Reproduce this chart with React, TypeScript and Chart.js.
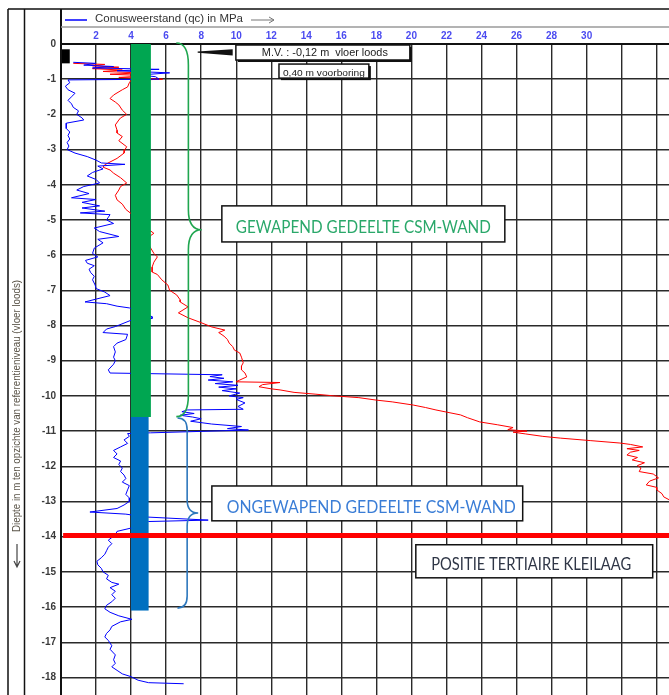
import React, { useEffect, useRef } from 'react';
import { Chart, registerables } from 'chart.js';

Chart.register(...registerables);

// ---------- axes ----------
const X_MIN = 0;
const X_MAX = 34.7;
const Y_MIN = -18.5;
const Y_MAX = 0;
const xTickLabels = [2, 4, 6, 8, 10, 12, 14, 16, 18, 20, 22, 24, 26, 28, 30];

// ---------- cone resistance qc (blue) ----------
const qcDepth = [
  -0.52, -0.55, -0.6, -0.64, -0.68, -0.72, -0.76, -0.82, -0.88, -0.93, -1.0, -1.02, -1.1, -1.2, -1.3, -1.4,
  -1.5, -1.6, -1.7, -1.8, -1.9, -2.0, -2.1, -2.16, -2.25, -2.4, -2.5, -2.6, -2.7, -2.8, -2.9, -3.0,
  -3.1, -3.2, -3.3, -3.38, -3.42, -3.47, -3.55, -3.65, -3.75, -3.85, -3.95, -4.05, -4.15, -4.25, -4.37, -4.42,
  -4.5, -4.6, -4.66, -4.75, -4.8, -4.85, -5.0, -5.1, -5.23, -5.33, -5.47, -5.55, -5.65, -5.8, -5.95, -6.05,
  -6.15, -6.23, -6.3, -6.4, -6.5, -6.6, -6.7, -6.85, -6.95, -7.05, -7.15, -7.25, -7.33, -7.38, -7.45, -7.5,
  -7.6, -7.75, -7.8, -7.85, -8.03, -8.1, -8.2, -8.25, -8.4, -8.5, -8.6, -8.75, -8.9, -9.0, -9.1, -9.26,
  -9.35, -9.4, -9.45, -9.5, -9.55, -9.6, -9.65, -9.7, -9.75, -9.8, -9.85, -9.92, -10.0, -10.05, -10.1, -10.2,
  -10.3, -10.38, -10.4, -10.45, -10.5, -10.55, -10.6, -10.65, -10.72, -10.8, -10.87, -10.93, -10.97, -11.05, -11.07, -11.15,
  -11.25, -11.35, -11.45, -11.55, -11.65, -11.75, -11.85, -11.95, -12.05, -12.15, -12.25, -12.35, -12.45, -12.55, -12.67, -12.8,
  -12.9, -13.0, -13.1, -13.2, -13.3, -13.36, -13.44, -13.53, -13.57, -13.65, -13.75, -13.85, -13.95, -14.1, -14.2, -14.3,
  -14.4, -14.5, -14.6, -14.7, -14.8, -14.9, -15.0, -15.1, -15.2, -15.3, -15.35, -15.45, -15.55, -15.65, -15.75, -15.85,
  -15.95, -16.05, -16.15, -16.25, -16.35, -16.42, -16.55, -16.65, -16.75, -16.85, -16.95, -17.1, -17.2, -17.36, -17.5, -17.6,
  -17.7, -17.8, -17.9, -17.98, -18.08, -18.15, -18.18,
];
const qcValue = [
  0.7, 2.0, 1.3, 3.0, 1.8, 5.6, 3.2, 6.2, 4.5, 5.4, 5.6, 0.4, 0.5, 0.25, 0.4, 0.8,
  0.6, 0.4, 0.6, 0.7, 1.0, 0.9, 1.2, 1.3, 0.3, 0.3, 0.5, 0.4, 0.5, 0.35, 0.45, 0.35,
  0.8, 1.5, 2.0, 2.3, 3.65, 2.1, 2.4, 1.8, 1.5, 2.0, 2.2, 1.3, 0.9, 1.6, 0.6, 2.0,
  1.2, 2.2, 1.2, 2.5, 1.1, 2.8, 2.6, 3.0, 1.9, 2.2, 3.3, 2.1, 2.4, 1.9, 1.8, 2.1,
  1.4, 1.5, 1.9, 1.6, 1.7, 1.9, 1.8, 1.95, 2.0, 2.5, 2.8, 2.0, 1.37, 2.6, 3.2, 3.9,
  4.5, 5.2, 5.2, 4.0, 3.1, 2.6, 2.4, 3.8, 3.7, 3.2, 3.0, 3.1, 3.0, 3.1, 3.0, 2.7,
  2.8, 9.2, 8.5, 9.3, 8.4, 9.8, 8.8, 10.1, 9.0, 10.0, 9.2, 10.2, 9.6, 10.4, 10.0, 10.5,
  10.1, 10.4, 7.2, 6.9, 7.6, 6.8, 7.5, 8.0, 7.4, 8.6, 10.3, 9.5, 10.7, 5.1, 3.8, 3.9,
  3.6, 3.8, 3.4, 3.0, 3.2, 3.0, 3.4, 3.3, 3.5, 3.4, 3.6, 3.7, 3.5, 3.9, 3.8, 3.7,
  3.9, 3.9, 3.6, 3.2, 1.65, 3.7, 4.8, 8.4, 5.0, 4.2, 4.05, 3.2, 3.1, 2.7, 2.9, 2.7,
  2.6, 2.5, 2.3, 2.05, 2.1, 2.3, 2.4, 2.7, 2.6, 2.9, 3.3, 2.8, 3.1, 2.9, 3.1, 2.9,
  2.6, 2.5, 2.8, 3.3, 4.05, 3.4, 2.9, 2.8, 2.6, 2.5, 2.7, 2.9, 2.8, 3.1, 3.0, 3.1,
  2.9, 3.2, 3.5, 4.0, 4.4, 5.0, 7.0,
];

// ---------- second curve (red) ----------
const redDepth = [
  -0.55, -0.58, -0.62, -0.66, -0.7, -0.74, -0.78, -0.82, -0.86, -0.9, -0.95, -1.0, -1.03, -1.1, -1.22, -1.3,
  -1.45, -1.55, -1.65, -1.73, -1.88, -2.0, -2.1, -2.16, -2.3, -2.45, -2.53, -2.63, -2.75, -2.92, -3.0, -3.1,
  -3.25, -3.43, -3.5, -3.58, -3.67, -3.8, -3.95, -4.05, -4.15, -4.3, -4.43, -4.55, -4.7, -4.8, -4.9, -5.2,
  -5.38, -5.45, -5.7, -5.95, -6.05, -6.2, -6.34, -6.48, -6.55, -6.7, -6.85, -7.0, -7.13, -7.27, -7.33, -7.47,
  -7.64, -7.78, -7.92, -8.04, -8.13, -8.2, -8.3, -8.4, -8.5, -8.6, -8.7, -8.78, -8.9, -9.06, -9.15, -9.26,
  -9.35, -9.46, -9.55, -9.6, -9.62, -9.68, -9.74, -9.8, -9.83, -9.9, -9.95, -10.0, -10.05, -10.12, -10.17, -10.26,
  -10.33, -10.4, -10.48, -10.54, -10.62, -10.74, -10.82, -10.9, -10.96, -11.0, -11.03, -11.08, -11.15, -11.2, -11.27, -11.34,
  -11.38, -11.45, -11.5, -11.55, -11.6, -11.68, -11.75, -11.82, -11.9, -11.98, -12.05, -12.15, -12.22, -12.33, -12.42, -12.53,
  -12.6, -12.67, -12.78, -12.87, -12.95,
];
const redValue = [
  0.7, 2.5, 1.8, 3.3, 1.8, 3.5, 2.4, 4.5, 2.8, 5.0, 3.3, 5.8, 4.0, 3.9, 3.8, 3.5,
  3.0, 2.8, 3.1, 3.3, 3.5, 3.75, 3.4, 3.3, 3.1, 3.2, 3.2, 3.5, 3.3, 3.75, 3.65, 3.6,
  3.2, 2.5, 2.4, 2.8, 3.0, 3.4, 3.75, 3.4, 3.3, 3.1, 3.2, 3.5, 3.7, 3.95, 4.3, 4.8,
  5.3, 5.1, 5.0, 5.3, 5.5, 5.3, 5.2, 5.2, 5.5, 5.75, 6.1, 6.2, 6.6, 6.8, 6.8, 7.25,
  6.7, 7.25, 8.0, 8.6, 9.35, 9.0, 9.3, 9.5, 9.6, 9.8, 9.9, 10.2, 10.3, 10.4, 10.3, 10.3,
  10.5, 10.6, 10.2, 10.0, 12.5, 11.5, 11.3, 12.0, 12.5, 13.3, 14.5, 15.6, 17.0, 18.0, 18.9, 20.1,
  20.8, 21.4, 22.2, 22.8, 23.2, 23.9, 24.9, 25.8, 25.5, 26.6, 25.8, 26.5, 27.5, 28.5, 30.2, 31.9,
  32.5, 33.2, 32.3, 33.0, 32.5, 32.3, 32.9, 32.6, 33.3, 32.9, 33.1, 33.0, 33.8, 34.1, 33.6, 33.4,
  34.0, 34.0, 34.3, 34.4, 34.7,
];

// ---------- wall sections (bars) ----------
const wallLabels = ['gewapend', 'ongewapend'];
const wallTop = [0, -10.6];
const wallBottom = [-10.6, -16.1];
const wallLeft = [3.99, 3.99];
const wallRight = [5.13, 5.0];
const wallColors = ['#00a651', '#0070c0'];

// pre-drilling block
const preDrillTop = -0.15;
const preDrillBottom = -0.55;
const preDrillLeft = 0;
const preDrillRight = 0.5;

// clay layer
const clayDepth = -13.97;

// braces: [top, tip, bottom] depth
const braceTop = [0, -10.6];
const braceTip = [-5.28, -13.33];
const braceBottom = [-10.59, -16.03];
const braceEndX = [6.58, 6.65];
const braceMidX = [7.27, 7.2];
const braceTipX = [8.03, 7.83];

// text labels
const boxTexts = ['GEWAPEND GEDEELTE CSM-WAND', 'ONGEWAPEND GEDEELTE CSM-WAND', 'POSITIE TERTIAIRE KLEILAAG'];
const mvText = 'M.V. : -0,12 m  vloer loods';
const preDrillText = '0,40 m voorboring';
const xTitle = 'Conusweerstand (qc) in MPa';
const yTitle = 'Diepte in m ten opzichte van referentieniveau (vloer loods)';

function fitText(ctx: CanvasRenderingContext2D, text: string, cx: number, baseline: number, width: number, font: string, color: string) {
  ctx.save();
  ctx.font = font;
  const w = ctx.measureText(text).width;
  ctx.translate(cx, baseline);
  ctx.scale(width / w, 1);
  ctx.textAlign = 'center';
  ctx.textBaseline = 'alphabetic';
  ctx.fillStyle = color;
  ctx.fillText(text, 0, 0);
  ctx.restore();
}

function drawBox(ctx: CanvasRenderingContext2D, x1: number, y1: number, x2: number, y2: number, shadow: boolean) {
  ctx.save();
  if (shadow) {
    ctx.fillStyle = '#111';
    ctx.fillRect(x1 + 2, y1 + 2, x2 - x1, y2 - y1);
  }
  ctx.fillStyle = '#fff';
  ctx.fillRect(x1, y1, x2 - x1, y2 - y1);
  ctx.strokeStyle = '#111';
  ctx.lineWidth = 1.5;
  ctx.strokeRect(x1, y1, x2 - x1, y2 - y1);
  ctx.restore();
}

function drawBrace(ctx: CanvasRenderingContext2D, xe: number, xm: number, xt: number, yTop: number, yTip: number, yBot: number, rEnd: number, rTip: number, color: string) {
  ctx.save();
  ctx.strokeStyle = color;
  ctx.lineWidth = 1.6;
  ctx.beginPath();
  ctx.moveTo(xe, yTop);
  ctx.quadraticCurveTo(xm, yTop, xm, yTop + rEnd);
  ctx.lineTo(xm, yTip - rTip);
  ctx.quadraticCurveTo(xm, yTip, xt, yTip);
  ctx.quadraticCurveTo(xm, yTip, xm, yTip + rTip);
  ctx.lineTo(xm, yBot - rEnd);
  ctx.quadraticCurveTo(xm, yBot, xe, yBot);
  ctx.stroke();
  ctx.restore();
}

const overlayPlugin = {
  id: 'overlay',
  beforeDraw(chart: any) {
    const ctx = chart.ctx as CanvasRenderingContext2D;
    ctx.save();
    ctx.fillStyle = '#fff';
    ctx.fillRect(0, 0, chart.width, chart.height);
    ctx.restore();
  },
  afterDatasetsDraw(chart: any) {
    const ctx = chart.ctx as CanvasRenderingContext2D;
    const xs = chart.scales.x;
    const ys = chart.scales.y;
    const px = (v: number) => xs.getPixelForValue(v);
    const py = (v: number) => ys.getPixelForValue(v);
    const area = chart.chartArea;

    // wall bars
    wallLabels.forEach((_, i) => {
      ctx.fillStyle = wallColors[i];
      const x1 = px(wallLeft[i]);
      const x2 = px(wallRight[i]);
      const y1 = py(wallTop[i]);
      const y2 = py(wallBottom[i]);
      ctx.fillRect(x1, y1, x2 - x1, y2 - y1);
    });

    // pre-drill block
    ctx.fillStyle = '#000';
    ctx.fillRect(px(preDrillLeft), py(preDrillTop), px(preDrillRight) - px(preDrillLeft), py(preDrillBottom) - py(preDrillTop));

    // braces
    drawBrace(ctx, px(braceEndX[0]), px(braceMidX[0]), px(braceTipX[0]), py(braceTop[0]) - 1, py(braceTip[0]), py(braceBottom[0]), 22, 20, '#1fa64f');
    drawBrace(ctx, px(braceEndX[1]), px(braceMidX[1]), px(braceTipX[1]), py(braceTop[1]) + 1, py(braceTip[1]), py(braceBottom[1]), 12, 13, '#2e78bd');

    // clay layer line
    ctx.save();
    ctx.strokeStyle = '#ff0000';
    ctx.lineWidth = 5;
    ctx.beginPath();
    ctx.moveTo(px(0.12), py(clayDepth));
    ctx.lineTo(area.right, py(clayDepth));
    ctx.stroke();
    ctx.restore();

    // M.V. leader wedge
    ctx.save();
    ctx.fillStyle = '#111';
    ctx.beginPath();
    ctx.moveTo(px(7.8), py(-0.21));
    ctx.lineTo(px(9.8), py(-0.15));
    ctx.lineTo(px(9.8), py(-0.33));
    ctx.lineTo(px(7.8), py(-0.25));
    ctx.closePath();
    ctx.fill();
    ctx.restore();

    // M.V. box
    drawBox(ctx, px(9.98), py(0) + 1, px(19.91), py(-0.455), true);
    fitText(ctx, mvText, (px(9.98) + px(19.91)) / 2 + 2, py(-0.34), 126, '10.5px "Liberation Sans", Arial, sans-serif', '#222');
    // voorboring box
    drawBox(ctx, px(12.44), py(-0.57), px(17.57), py(-0.97), true);
    fitText(ctx, preDrillText, (px(12.44) + px(17.57)) / 2, py(-0.91), 82, '9.5px "Liberation Sans", Arial, sans-serif', '#222');

    // big boxes
    const boxes = [
      { x1: 9.18, x2: 25.33, y1: -4.6, y2: -5.625, base: -5.36, w: 255, color: '#2aa86a' },
      { x1: 8.61, x2: 26.35, y1: -12.56, y2: -13.55, base: -13.32, w: 289, color: '#3a7dd6' },
      { x1: 20.25, x2: 33.77, y1: -14.23, y2: -15.17, base: -14.94, w: 200, color: '#2f3646' },
    ];
    boxes.forEach((b, i) => {
      drawBox(ctx, px(b.x1), py(b.y1), px(b.x2), py(b.y2), false);
      const cx = i === 1 ? (px(b.x1) + px(b.x2)) / 2 + 4 : (px(b.x1) + px(b.x2)) / 2 - (i === 2 ? 3 : 0);
      fitText(ctx, boxTexts[i], cx, py(b.base), b.w, '16.5px Lato, "Open Sans", sans-serif', b.color);
    });
  },
  afterDraw(chart: any) {
    const ctx = chart.ctx as CanvasRenderingContext2D;
    const area = chart.chartArea;
    const top = area.top - 35;
    const head = area.top - 17;
    ctx.save();
    // frame
    ctx.strokeStyle = '#111';
    ctx.lineWidth = 1.5;
    ctx.beginPath();
    ctx.moveTo(8, top);
    ctx.lineTo(chart.width, top);
    ctx.moveTo(8, top);
    ctx.lineTo(8, chart.height);
    ctx.moveTo(24.5, top);
    ctx.lineTo(24.5, chart.height);
    ctx.stroke();
    ctx.lineWidth = 2;
    ctx.beginPath();
    ctx.moveTo(area.left, top);
    ctx.lineTo(area.left, chart.height);
    ctx.stroke();
    ctx.strokeStyle = '#9a9a9a';
    ctx.lineWidth = 1.5;
    ctx.beginPath();
    ctx.moveTo(area.left, head);
    ctx.lineTo(chart.width, head);
    ctx.stroke();

    // x title with legend line and arrow
    ctx.strokeStyle = '#0000ff';
    ctx.lineWidth = 1.5;
    ctx.beginPath();
    ctx.moveTo(65, top + 11);
    ctx.lineTo(87, top + 11);
    ctx.stroke();
    fitText(ctx, xTitle, 169, top + 13, 148, '11px "Liberation Sans", Arial, sans-serif', '#333');
    ctx.strokeStyle = '#777';
    ctx.lineWidth = 1;
    ctx.beginPath();
    ctx.moveTo(251, top + 11);
    ctx.lineTo(274, top + 11);
    ctx.moveTo(269, top + 8);
    ctx.lineTo(274, top + 11);
    ctx.lineTo(269, top + 14);
    ctx.stroke();

    // y title rotated
    ctx.save();
    ctx.translate(20, 406);
    ctx.rotate(-Math.PI / 2);
    fitText(ctx, yTitle, 0, 0, 252, '10px "Liberation Sans", Arial, sans-serif', '#5a5448');
    ctx.restore();
    ctx.strokeStyle = '#444';
    ctx.lineWidth = 1.2;
    ctx.beginPath();
    ctx.moveTo(17, 544);
    ctx.lineTo(17, 567);
    ctx.moveTo(14, 561);
    ctx.lineTo(17, 567);
    ctx.lineTo(20, 561);
    ctx.stroke();
    ctx.restore();
  },
};

export default function App() {
  const canvasRef = useRef<HTMLCanvasElement | null>(null);

  useEffect(() => {
    const canvas = canvasRef.current;
    if (!canvas) return;
    const qcData = qcDepth.map((d, i) => ({ x: qcValue[i], y: d }));
    const redData = redDepth.map((d, i) => ({ x: redValue[i], y: d }));
    const gridColor = '#2a2a2a';
    const chart = new Chart(canvas, {
      type: 'scatter',
      data: {
        datasets: [
          {
            label: 'qc',
            data: qcData,
            showLine: true,
            borderColor: '#0000ff',
            borderWidth: 1,
            pointRadius: 0,
            tension: 0,
          },
          {
            label: 'red',
            data: redData,
            showLine: true,
            borderColor: '#ff0000',
            borderWidth: 1,
            pointRadius: 0,
            tension: 0,
          },
        ],
      },
      options: {
        responsive: false,
        maintainAspectRatio: false,
        devicePixelRatio: 1,
        animation: false,
        layout: { padding: 0 },
        plugins: {
          legend: { display: false },
          tooltip: { enabled: false },
          title: { display: false },
        },
        scales: {
          x: {
            type: 'linear',
            position: 'top',
            min: X_MIN,
            max: X_MAX,
            afterFit: (s: any) => {
              s.height = 44;
              s.paddingLeft = 0;
              s.paddingRight = 0;
            },
            border: { display: true, color: '#111', width: 2 },
            grid: { color: gridColor, lineWidth: 1.4, drawTicks: false },
            ticks: {
              stepSize: 2,
              includeBounds: false,
              padding: 2,
              color: '#4b4bf0',
              font: { family: '"Liberation Sans", Arial, sans-serif', size: 10, weight: 'bold' },
              callback: (v: any) => (xTickLabels.includes(Number(v)) ? String(v) : ''),
              maxRotation: 0,
              autoSkip: false,
            },
          },
          y: {
            type: 'linear',
            min: Y_MIN,
            max: Y_MAX,
            afterFit: (s: any) => {
              s.width = 61;
              s.paddingTop = 0;
              s.paddingBottom = 0;
            },
            border: { display: true, color: '#111', width: 2 },
            grid: { color: gridColor, lineWidth: 1.4, drawTicks: false },
            ticks: {
              stepSize: 1,
              includeBounds: false,
              padding: 5,
              color: '#3a3a3a',
              font: { family: '"Liberation Sans", Arial, sans-serif', size: 10, weight: 'bold' },
              autoSkip: false,
            },
          },
        },
      },
      plugins: [overlayPlugin],
    } as any);
    return () => chart.destroy();
  }, []);

  return (
    <div style={{ position: 'absolute', left: 0, top: 0, width: 669, height: 695, background: '#fff' }}>
      <canvas ref={canvasRef} width={669} height={695} style={{ display: 'block' }} />
    </div>
  );
}
